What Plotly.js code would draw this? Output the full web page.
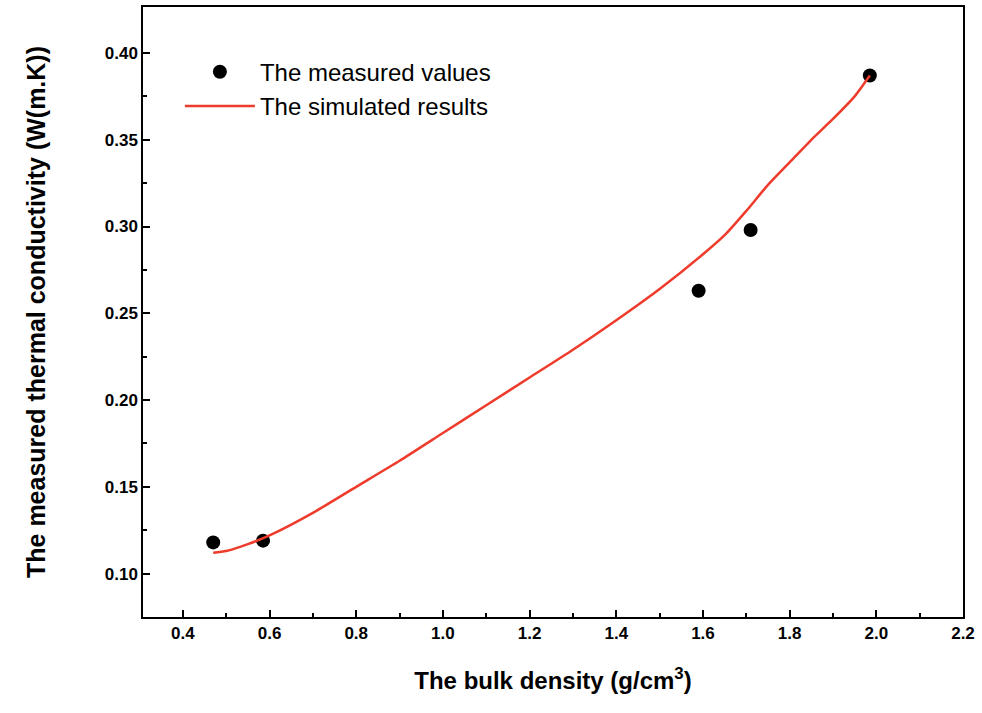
<!DOCTYPE html><html><head><script src="https://cdn.plot.ly/plotly-3.0.1.min.js"></script></head><body style="margin:0"><div id="c" style="width:982px;height:713px"></div><script>
const measX=[0.47,0.585,1.59,1.71,1.985];
const measY=[0.118,0.119,0.263,0.298,0.387];
const simX=[0.47,0.5,0.55,0.6,0.7,0.8,0.9,1.0,1.1,1.2,1.3,1.4,1.5,1.6,1.65,1.7,1.75,1.8,1.85,1.9,1.95,1.985];
const simY=[0.112,0.113,0.117,0.122,0.135,0.150,0.165,0.181,0.197,0.213,0.229,0.246,0.264,0.284,0.295,0.309,0.324,0.337,0.350,0.362,0.375,0.387];
const tf={family:'Liberation Sans',size:17,color:'#000'};
const ax={showline:true,mirror:true,linecolor:'#000',linewidth:1.5,ticks:'inside',ticklen:7,tickwidth:1.5,tickcolor:'#000',showgrid:false,zeroline:false,tickfont:tf};
const b=v=>v.map(s=>'<b>'+s+'</b>');
Plotly.newPlot('c',[
{x:measX,y:measY,mode:'markers',name:'The measured values',marker:{color:'#000',size:14}},
{x:simX,y:simY,mode:'lines',name:'The simulated results',line:{color:'#ee3b2b',width:2.5,shape:'spline',smoothing:0.6}}
],{width:982,height:713,margin:{l:143,r:19,t:7,b:96},paper_bgcolor:'#fff',plot_bgcolor:'#fff',showlegend:true,
legend:{x:0.045,y:0.93,xanchor:'left',yanchor:'top',bgcolor:'rgba(0,0,0,0)',itemwidth:70,tracegroupgap:0,font:{family:'Liberation Sans',size:24,color:'#000'}},
xaxis:Object.assign({},ax,{range:[0.308,2.2],tickvals:[0.4,0.6,0.8,1.0,1.2,1.4,1.6,1.8,2.0,2.2],ticktext:b(['0.4','0.6','0.8','1.0','1.2','1.4','1.6','1.8','2.0','2.2']),minor:{ticks:'inside',ticklen:4,tickcolor:'#000',tickwidth:1.5,tickvals:[0.3,0.5,0.7,0.9,1.1,1.3,1.5,1.7,1.9,2.1]},
 title:{text:'<b>The bulk density (g/cm<sup>3</sup>)</b>',font:{family:'Liberation Sans',size:24,color:'#000'},standoff:30}}),
yaxis:Object.assign({},ax,{range:[0.075,0.4265],tickvals:[0.10,0.15,0.20,0.25,0.30,0.35,0.40],ticktext:b(['0.10','0.15','0.20','0.25','0.30','0.35','0.40']),minor:{ticks:'inside',ticklen:4,tickcolor:'#000',tickwidth:1.5,tickvals:[0.125,0.175,0.225,0.275,0.325,0.375]},
 title:{text:'<b>The measured thermal conductivity (W(m.K))</b>',font:{family:'Liberation Sans',size:25,color:'#000'},standoff:52}})
},{displayModeBar:false});
</script></body></html>
